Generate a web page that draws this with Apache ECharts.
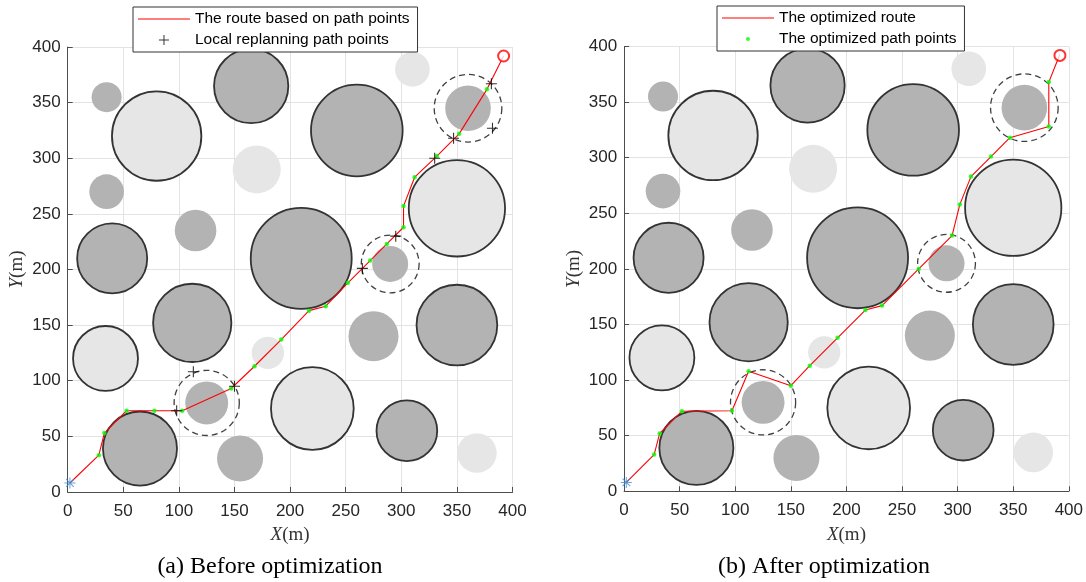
<!DOCTYPE html>
<html><head><meta charset="utf-8">
<script src="https://cdn.jsdelivr.net/npm/echarts@6/dist/echarts.min.js"></script>
<style>html,body{margin:0;padding:0;background:#fff}#c{width:1086px;height:582px}</style>
</head><body><div id="c"></div><script>
// Obstacles: [x, y, radius] in metres
const darkBordered = [[165,365,33.4],[260,325,41.2],[40,210,31.5],[210,210,45.4],[112,152,35.2],[350,150,36.3],[65,39,33.3],[305,55,27.3]];
const darkPlain = [[35,355,13.5],[35,270,15.6],[115,235,18.7],[360,345,20.5],[290,205,16.2],[275,140,22.5],[125,80,19.3],[155,30,20.7]];
const lightBordered = [[80,320,40.2],[350,255,43.3],[34,120,29.2],[220,75,37.2]];
const lightPlain = [[310,380,15.6],[170,290,21.6],[180,125,14.5],[368,35,17.8]];
const dashedZones = [[360,345,30.4],[290,205,26],[125,80,29.3]];

// Route before optimization
const routeBeforeX = [2,28,33,53,78,103,147,168,192,217,232,252,272,287,302,302,312,332,352,377,392];
const routeBeforeY = [8,33,53,73,73,73,93,113,137,163,167,188,208,223,238,257,283,302,322,362,392];
// Local replanning path points
const replanX = [98,113,150,265,295,330,347,382,381];
const replanY = [73,108,95,201,230,300,318,327,367];
// Route after optimization
const routeAfterX = [2,27,32,52,97,112,150,167,192,217,232,265,295,302,312,330,347,382,382,392];
const routeAfterY = [8,33,52,72,72.5,108,95,113,138,163,167,200,230,258,283,301,318,328,368,393];

const startPt = [2,8];
const endPt = [392,392];

const pairs = (xs, ys) => xs.map((x, i) => [x, ys[i]]);
const inner = a => a.slice(1, a.length - 1);

const PLUS = 'path://M4.5,0h1v10h-1zM0,4.5h10v1h-10z';
const DOT = 'path://M0,0h0.01v0.01h-0.01zM10,10h0.01v0.01h-0.01zM3,5a2,2 0 1,0 4,0a2,2 0 1,0 -4,0z';
const LINE = 'path://M0,0h0.01v0.01h-0.01zM0,10h0.01v0.01h-0.01zM0,4.45h52v1.1h-52z';
const STAR = 'path://M4.55,0h0.9v10h-0.9zM0,4.55h10v0.9h-10zM1.2,1.85L1.85,1.2L8.8,8.15L8.15,8.8zM8.15,1.2L8.8,1.85L1.85,8.8L1.2,8.15z';

function circleRenderer(fill, stroke, lw, dash) {
  return function (params, api) {
    const c = api.coord([api.value(0), api.value(1)]);
    const s = api.size([api.value(2), api.value(2)]);
    return {type: 'circle', shape: {cx: c[0], cy: c[1], r: s[0]},
      style: {fill: fill, stroke: stroke, lineWidth: lw, lineDash: dash}};
  };
}

function obstacleSeries(ai) {
  const base = {type: 'custom', xAxisIndex: ai, yAxisIndex: ai, silent: true, z: 1};
  return [
    Object.assign({}, base, {data: lightPlain, renderItem: circleRenderer('#e6e6e6', null, 0)}),
    Object.assign({}, base, {data: darkPlain, renderItem: circleRenderer('#b3b3b3', null, 0)}),
    Object.assign({}, base, {data: lightBordered, renderItem: circleRenderer('#e6e6e6', '#333333', 1.8)}),
    Object.assign({}, base, {data: darkBordered, renderItem: circleRenderer('#b3b3b3', '#333333', 1.8)}),
    Object.assign({}, base, {data: dashedZones, z: 2, renderItem: circleRenderer(null, '#404040', 1.3, [6, 4])})
  ];
}

const axisFont = 'Liberation Sans, Arial, Helvetica, sans-serif';
const serif = 'Liberation Serif, Times New Roman, serif';
const nameRich = {rich: {i: {fontFamily: serif, fontStyle: 'italic', fontSize: 19, color: '#333'}, n: {fontFamily: serif, fontSize: 19, color: '#333'}}};

function makeX(gi) {
  return {type: 'value', gridIndex: gi, min: 0, max: 400, interval: 50,
    name: '{i|X}{n|(m)}', nameLocation: 'middle', nameGap: 34, nameTextStyle: nameRich,
    axisLine: {show: true, lineStyle: {color: '#4d4d4d', width: 1}},
    axisTick: {show: true, inside: true, length: 5, lineStyle: {color: '#4d4d4d'}},
    axisLabel: {fontFamily: axisFont, fontSize: 17, color: '#262626', margin: 11},
    splitLine: {show: true, lineStyle: {color: '#e3e3e3', width: 1}}};
}
function makeY(gi) {
  return {type: 'value', gridIndex: gi, min: 0, max: 400, interval: 50,
    name: '{i|Y}{n|(m)}', nameLocation: 'middle', nameGap: 41, nameRotate: 90, nameTextStyle: nameRich,
    axisLine: {show: true, lineStyle: {color: '#4d4d4d', width: 1}},
    axisTick: {show: true, inside: true, length: 5, lineStyle: {color: '#4d4d4d'}},
    axisLabel: {fontFamily: axisFont, fontSize: 17, color: '#262626', margin: 7},
    splitLine: {show: true, lineStyle: {color: '#e3e3e3', width: 1}}};
}

const legendBase = {orient: 'vertical', itemWidth: 52, itemHeight: 10, itemGap: 5,
  padding: [4, 8, 4, 5], borderColor: '#333', borderWidth: 1, backgroundColor: '#fff',
  textStyle: {fontFamily: axisFont, fontSize: 15.5, color: '#000'}, selectedMode: false};

function routeSeries(name, xs, ys, ai) {
  return {name: name, type: 'line', xAxisIndex: ai, yAxisIndex: ai, data: pairs(xs, ys),
    symbol: 'none', lineStyle: {color: '#ff0000', width: 1.1}, itemStyle: {color: '#ff0000'}, z: 3, silent: true};
}
function greenSeries(name, xs, ys, ai) {
  return {name: name, type: 'scatter', xAxisIndex: ai, yAxisIndex: ai, data: pairs(inner(xs), inner(ys)),
    symbol: 'circle', symbolSize: 4.5, itemStyle: {color: '#00ff00'}, z: 4, silent: true};
}
function endSeries(ai) {
  return [
    {type: 'scatter', xAxisIndex: ai, yAxisIndex: ai, data: [startPt], symbol: STAR, symbolSize: 11,
      itemStyle: {color: '#3c8fd6'}, z: 6, silent: true},
    {type: 'scatter', xAxisIndex: ai, yAxisIndex: ai, data: [endPt], symbol: 'emptyCircle', symbolSize: 11,
      itemStyle: {color: '#ff0000', borderColor: '#ff0000', borderWidth: 1.1}, z: 6, silent: true}
  ];
}

const option = {
  animation: false,
  backgroundColor: '#fff',
  grid: [
    {left: 67.7, top: 47.1, width: 444.8, height: 444.8},
    {left: 624.1, top: 46.5, width: 444.8, height: 444.8}
  ],
  xAxis: [makeX(0), makeX(1)],
  yAxis: [makeY(0), makeY(1)],
  legend: [
    Object.assign({}, legendBase, {left: 133, top: 7,
      data: [{name: 'The route based on path points', icon: LINE}, {name: 'Local replanning path points', icon: PLUS}]}),
    Object.assign({}, legendBase, {left: 717, top: 6,
      data: [{name: 'The optimized route', icon: LINE}, {name: 'The optimized path points', icon: DOT}]})
  ],
  graphic: [
    {type: 'text', x: 270, y: 567, style: {text: '(a) Before optimization', font: '24px ' + serif, fill: '#000', align: 'center', verticalAlign: 'middle'}},
    {type: 'text', x: 824, y: 567, style: {text: '(b) After optimization', font: '24px ' + serif, fill: '#000', align: 'center', verticalAlign: 'middle'}}
  ],
  series: [].concat(
    obstacleSeries(0),
    [routeSeries('The route based on path points', routeBeforeX, routeBeforeY, 0),
     greenSeries('__g0', routeBeforeX, routeBeforeY, 0),
     {name: 'Local replanning path points', type: 'scatter', xAxisIndex: 0, yAxisIndex: 0,
      data: pairs(replanX, replanY), symbol: PLUS, symbolSize: 11, itemStyle: {color: '#000'}, z: 5, silent: true}],
    endSeries(0),
    obstacleSeries(1),
    [routeSeries('The optimized route', routeAfterX, routeAfterY, 1),
     greenSeries('The optimized path points', routeAfterX, routeAfterY, 1)],
    endSeries(1)
  )
};

const chart = echarts.init(document.getElementById('c'), null, {renderer: 'canvas'});
chart.setOption(option);
</script></body></html>
